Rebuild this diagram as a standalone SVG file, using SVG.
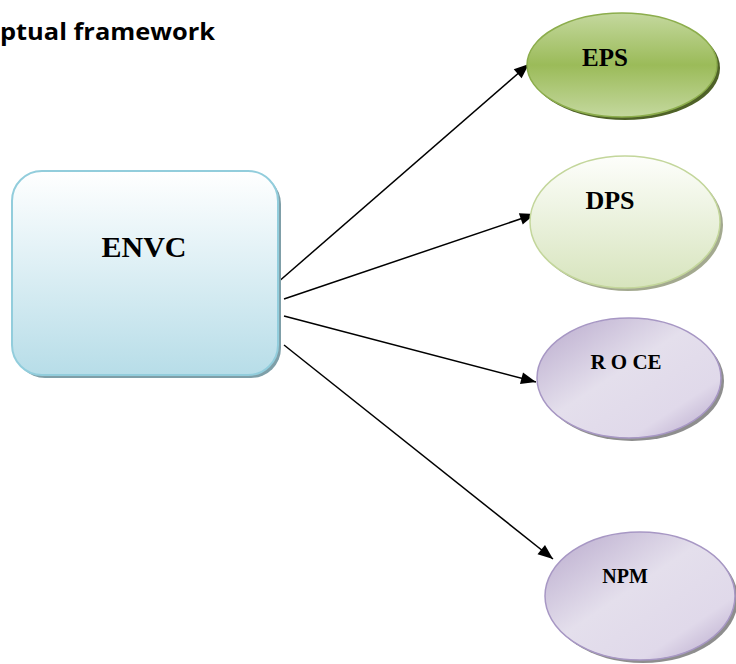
<svg xmlns="http://www.w3.org/2000/svg" width="736" height="664" viewBox="0 0 736 664">
<style>
.lbl{font-family:"Liberation Serif","Times New Roman",serif;font-weight:bold;fill:#000;text-anchor:middle}
.title{font-family:"Open Sans","Liberation Sans",Arial,sans-serif;font-weight:bold;font-size:24px;fill:#000}
.conn{stroke:#000;stroke-width:1.5;fill:none;marker-end:url(#arr)}
</style>
<defs>
<marker id="arr" viewBox="0 0 10 10" refX="10" refY="5" markerWidth="10" markerHeight="10" markerUnits="userSpaceOnUse" orient="auto" overflow="visible">
<path d="M-5,-1 L10,5 L-5,11 z" fill="#000"/>
</marker>
<linearGradient id="gEnvc" x1="0" y1="0" x2="0" y2="1">
<stop offset="0" stop-color="#ffffff"/>
<stop offset="0.45" stop-color="#dff0f5"/>
<stop offset="1" stop-color="#b7dde8"/>
</linearGradient>
<linearGradient id="gEps" x1="0" y1="0" x2="0" y2="1">
<stop offset="0" stop-color="#c4d89e"/>
<stop offset="0.5" stop-color="#9bbb59"/>
<stop offset="1" stop-color="#c4d89e"/>
</linearGradient>
<linearGradient id="gDps" x1="0" y1="0" x2="0" y2="1">
<stop offset="0" stop-color="#fdfefb"/>
<stop offset="1" stop-color="#d7e4bd"/>
</linearGradient>
<linearGradient id="gPur" x1="0" y1="0" x2="1" y2="1">
<stop offset="0" stop-color="#b8a9cc"/>
<stop offset="0.45" stop-color="#e4dfec"/>
<stop offset="0.75" stop-color="#e0d9ea"/>
<stop offset="1" stop-color="#b2a1c7"/>
</linearGradient>
</defs>
<text class="title" x="0" y="40" textLength="215" lengthAdjust="spacingAndGlyphs">ptual framework</text>
<g id="connectors">
<line class="conn" x1="277" y1="283" x2="529" y2="64"/>
<line class="conn" x1="284" y1="299" x2="535" y2="214"/>
<line class="conn" x1="284" y1="316" x2="536" y2="382"/>
<line class="conn" x1="284" y1="345" x2="553" y2="559"/>
</g>
<g id="ENVC">
<rect x="15" y="174" width="266" height="204" rx="30" fill="#7f9fa8"/>
<rect x="12" y="171" width="266" height="204" rx="30" fill="url(#gEnvc)" stroke="#92cddc" stroke-width="2"/>
<text class="lbl" x="144" y="257" font-size="30">ENVC</text>
</g>
<g id="EPS">
<ellipse cx="625" cy="68" rx="95" ry="52" fill="#4f6228"/>
<ellipse cx="622" cy="65" rx="95" ry="52" fill="url(#gEps)" stroke="#8cad4c" stroke-width="1.5"/>
<text class="lbl" x="605" y="66" font-size="25">EPS</text>
</g>
<g id="DPS">
<ellipse cx="628" cy="225" rx="95" ry="66" fill="#a3a98f"/>
<ellipse cx="625" cy="222" rx="95" ry="66" fill="url(#gDps)" stroke="#c3d69b" stroke-width="1.5"/>
<text class="lbl" x="610" y="209" font-size="26">DPS</text>
</g>
<g id="ROCE">
<ellipse cx="632" cy="381" rx="92" ry="60" fill="#8e8e8e"/>
<ellipse cx="629" cy="378" rx="92" ry="60" fill="url(#gPur)" stroke="#a797c4" stroke-width="1.5"/>
<text class="lbl" x="626" y="369" font-size="21">R O CE</text>
</g>
<g id="NPM">
<ellipse cx="643" cy="599" rx="95" ry="64" fill="#8e8e8e"/>
<ellipse cx="640" cy="596" rx="95" ry="64" fill="url(#gPur)" stroke="#a797c4" stroke-width="1.5"/>
<text class="lbl" x="625" y="583" font-size="20">NPM</text>
</g>
</svg>
